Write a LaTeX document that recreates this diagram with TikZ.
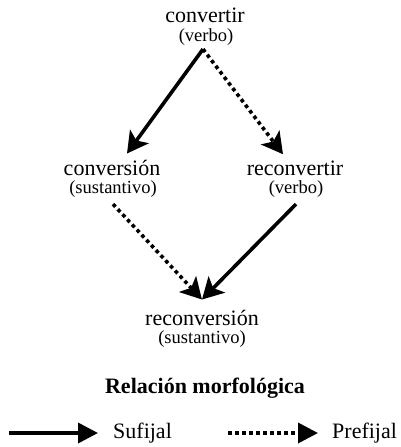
\documentclass[tikz,border=0pt]{standalone}
\usepackage{fontspec}
\setmainfont{Liberation Serif}
\usetikzlibrary{arrows.meta}

\begin{document}
\begin{tikzpicture}
	[x=1pt, y=1pt,
		word/.style		={anchor=base
									, inner sep=0pt
									, font=\fontsize{22pt}{24pt}\selectfont
									},
		cat/.style		={anchor=base
									, inner sep=0pt
									, font=\fontsize{18.5pt}{20pt}\selectfont
									},
		sufijo/.style	={draw
									, line width=3.6pt
									, -{Stealth[length=21pt, width=23pt, inset=5pt]}
									},
		prefijo/.style	={sufijo
									, dash pattern=on 3.6pt off 3.4pt
									},
		muestra/.style	={-{Triangle[length=20pt, width=20pt]}
									}
	]
\useasboundingbox (0,0) rectangle (400,-447);

% words
\node [word] (convertir)			at (205,-23)	{convertir};
\node [cat]  (convertir cat)		at (206,-41)	{(verbo)};
\node [word] (conversion)			at (112,-175)	{conversión};
\node [cat]  (conversion cat)		at (113,-193)	{(sustantivo)};
\node [word] (reconvertir)			at (295,-175)	{reconvertir};
\node [cat]  (reconvertir cat)		at (296,-193)	{(verbo)};
\node [word] (reconversion)		at (202,-325)	{reconversión};
\node [cat]  (reconversion cat)	at (202,-343)	{(sustantivo)};

% ends of the arrows
\coordinate (convertir out)		at ([xshift=-3pt, yshift=-4pt]convertir cat.south);
\coordinate (conversion in)		at ([xshift=15pt, yshift=6pt]conversion.north);
\coordinate (reconvertir in)		at ([xshift=-12pt, yshift=6pt]reconvertir.north);
\coordinate (conversion out)		at ([yshift=-7pt]conversion cat.south);
\coordinate (reconvertir out)		at ([yshift=-7pt]reconvertir cat.south);
\coordinate (reconversion in)		at ([yshift=10pt]reconversion.north);

\path [sufijo]		(convertir out)		-- (conversion in);
\path [prefijo]	(convertir out)		-- (reconvertir in);
\path [prefijo]	(conversion out)		-- (reconversion in);
\path [sufijo]		(reconvertir out)	-- (reconversion in);

% legend
\node [word, font=\fontsize{22pt}{24pt}\selectfont\bfseries] (leyenda) at (205,-393) {Relación morfológica};
\coordinate (sufijo start)	at (9,-433);
\node [word, anchor=base west] (sufijal)	at (113,-438)	{Sufijal};
\coordinate (prefijo start)	at (228,-433);
\node [word, anchor=base west] (prefijal)	at (332,-438)	{Prefijal};
\path [sufijo, muestra]		(sufijo start)		-- ([xshift=-15pt]sufijal.west |- sufijo start);
\path [prefijo, muestra]	(prefijo start)	-- ([xshift=-14pt]prefijal.west |- prefijo start);
\end{tikzpicture}
\end{document}
